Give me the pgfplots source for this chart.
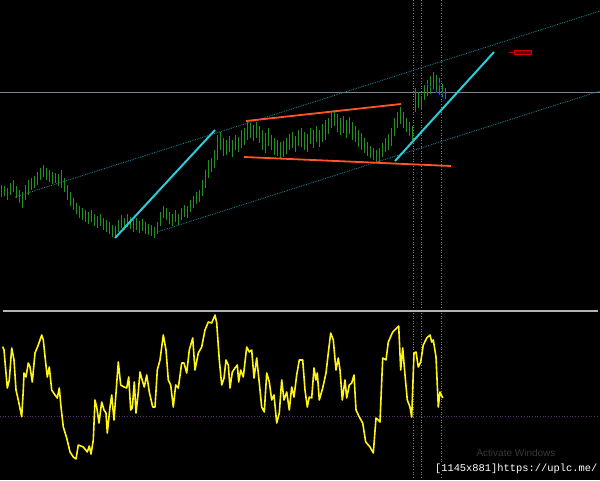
\documentclass[border=0pt]{standalone}
\usepackage{pgfplots}
\usepackage{pgfplotstable}
\pgfplotsset{compat=1.18}
\usepackage{fontspec}
\setmainfont{Liberation Sans}
\newfontfamily\monofont{Liberation Mono}

\definecolor{bargreen}{RGB}{30,145,30}
\definecolor{trendcyan}{RGB}{40,205,220}
\definecolor{chancyan}{RGB}{30,140,160}
\definecolor{trendred}{RGB}{255,85,40}
\definecolor{levelgray}{RGB}{125,130,140}
\definecolor{sepgray}{RGB}{180,180,180}
\definecolor{oscyellow}{RGB}{255,245,20}
\definecolor{zeropurple}{RGB}{90,50,110}

% price bars in screen units: x, high, low (y grows downward)
\pgfplotstableread{
x hi lo
1 185 197
4 186 196
7 188 200
10 183 195
13 180 192
16 186 198
19 190 203
22 192 208
25 185 200
28 180 195
31 178 190
34 176 188
37 172 185
40 168 180
43 165 177
46 168 180
49 170 182
52 172 184
55 173 183
58 174 186
61 170 188
64 178 192
67 185 200
70 192 206
73 198 210
76 203 214
79 206 218
82 208 220
85 210 222
88 212 224
91 210 222
94 214 226
97 216 228
100 214 226
103 218 230
106 220 232
109 222 234
112 225 237
115 226 238
118 220 232
121 215 228
124 218 230
127 214 227
130 217 229
133 220 232
136 218 230
139 221 233
142 219 231
145 222 234
148 224 235
151 225 236
154 227 238
157 222 234
160 212 226
163 206 218
166 208 220
169 212 224
172 214 226
175 210 222
178 214 225
181 208 220
184 205 217
187 206 218
190 200 212
193 196 208
196 192 204
199 190 202
202 180 196
205 170 188
208 160 178
211 158 172
214 150 168
217 135 160
220 132 150
223 138 156
226 140 155
229 136 152
232 140 157
235 135 150
238 137 152
241 130 148
244 128 145
247 121 140
250 123 138
253 125 141
256 122 138
259 126 143
262 130 150
265 133 153
268 128 146
271 135 150
274 138 155
277 140 156
280 142 158
283 141 157
286 138 154
289 134 150
292 132 148
295 136 152
298 130 146
301 128 147
304 132 150
307 134 152
310 128 144
313 130 148
316 126 142
319 130 147
322 124 142
325 120 140
328 118 134
331 112 128
334 110 126
337 114 132
340 118 135
343 116 133
346 120 138
349 117 134
352 122 140
355 126 142
358 130 147
361 133 150
364 138 153
367 142 156
370 146 158
373 148 160
376 150 162
379 148 162
382 143 157
385 138 152
388 134 150
391 128 146
394 118 136
397 112 128
400 107 124
403 112 128
406 118 132
409 122 136
412 126 140
415 88 112
418 92 108
421 96 110
424 85 100
427 80 96
430 76 94
433 72 90
436 75 92
439 78 95
442 84 98
445 88 99
}\pricedata

\pgfplotsset{
  panel/.style={
    scale only axis, width=600pt, xmin=0, xmax=600,
    y dir=reverse, ticks=none,
    axis line style={draw=none},
    axis background/.style={fill=black},
  },
}

\begin{document}
\begin{tikzpicture}
% price panel
\begin{axis}[panel, at={(0,172pt)}, height=308pt, ymin=0, ymax=308]
\addplot[levelgray, line width=0.8pt] coordinates {(0,92) (600,92)};
\addplot[chancyan, densely dotted, line width=0.8pt] coordinates {(15,197) (600,11)};
\addplot[chancyan, densely dotted, line width=0.8pt] coordinates {(157,232) (600,91)};
\addplot[gray, dotted, line width=0.6pt] coordinates {(413,0) (413,308)};
\addplot[gray, dotted, line width=0.6pt] coordinates {(421,0) (421,308)};
\addplot[gray, dotted, line width=0.6pt] coordinates {(441,0) (441,308)};
\addplot[draw=none, no markers,
  error bars/.cd, y dir=plus, y explicit, error mark=none,
  error bar style={draw=bargreen, line width=1pt}]
  table[x=x, y=hi, y error plus expr=\thisrow{lo}-\thisrow{hi}] {\pricedata};
\addplot[blue!60!black, line width=0.5pt] coordinates {(427,84) (445,100) (437,77)};
\addplot[trendcyan, line width=2pt] coordinates {(115,238) (215,130)};
\addplot[trendcyan, line width=2pt] coordinates {(395,161) (494,52)};
\addplot[trendred, line width=1.8pt] coordinates {(246,121) (401,104)};
\addplot[trendred, line width=1.8pt] coordinates {(244,157) (451,166)};
\draw[red!80!black, line width=0.5pt] (axis cs:509,52.5) -- (axis cs:514,52.5);
\node[draw=red!85!black, fill=red!20!black, inner sep=0.6pt, text=red!75!black,
  font=\fontsize{4.5}{5}\selectfont, anchor=west] at (axis cs:514,52.5) {1929.15};
\end{axis}
% oscillator panel
\begin{axis}[panel, at={(0,0)}, height=172pt, ymin=308, ymax=480]
\addplot[sepgray, line width=2.2pt] coordinates {(3,311) (598,311)};
\addplot[zeropurple, dotted, line width=0.7pt] coordinates {(0,416) (597,416)};
\addplot[gray, dotted, line width=0.6pt] coordinates {(413,313) (413,478)};
\addplot[gray, dotted, line width=0.6pt] coordinates {(421,313) (421,478)};
\addplot[gray, dotted, line width=0.6pt] coordinates {(441,313) (441,478)};
\addplot[oscyellow, line width=1.6pt, line join=round] coordinates {
(2.7,346.7) (4,350) (7.3,388) (9.3,380) (11.7,348) (14,360) (16,390) (18.3,400)
(21.7,416.7) (23.3,390) (24,373) (26,377) (28.3,363) (30,367) (32.3,382) (35,353)
(38.3,345) (41.7,335) (43.3,340) (45.7,363) (47.3,377) (49.3,367) (51.7,390) (55,395)
(57.3,398) (59.3,388) (61,407) (63.3,427) (66.7,438) (70,452) (73.3,457) (76,459)
(78.3,445) (83.3,447) (87.3,452) (89.3,446) (91,454) (93.3,440) (95,400) (96.7,407)
(99,423) (101.7,402) (104,410) (106,413) (107.3,433) (110,407) (111.7,395) (114,420)
(116,393) (118.3,362) (120.7,385) (124,387) (126.7,388) (128.7,377) (130.7,410) (132.3,408)
(134.3,382) (136,413) (138.3,392) (140,372) (142.7,382) (144.3,387) (146.7,375) (149.3,392)
(152.7,407) (155,407) (157.3,370) (160,360) (163.3,335) (166,350) (168.3,380) (170.7,385)
(173.3,407) (175.7,385) (178.3,388) (181.7,363) (184,363) (186.7,373) (189.3,350) (192.7,338)
(195,370) (198.3,353) (201.7,347) (205,330) (208.3,322) (211.7,323) (215,315) (216.7,323)
(219.3,360) (221.7,385) (224,378) (226,360) (228.3,365) (230,388) (232.3,372) (235,368)
(237.3,365) (238.7,382) (240.7,370) (243.3,377) (246.7,347) (249.3,352) (251.7,350) (254,378)
(256.7,358) (259.3,383) (261.7,407) (264.3,412) (266.7,373) (269.3,382) (271.7,400) (274,395)
(276.7,423) (279.3,413) (281.7,380) (284,400) (286.7,392) (289.3,410) (291.7,387) (294,397)
(296.7,375) (299.3,360) (302.7,360) (305,390) (307.3,407) (309.3,397) (311.7,398) (314,368)
(316,380) (317.3,373) (319.3,400) (322.7,388) (326,373) (328.3,353) (330.7,333) (333.3,340)
(336,370) (338.3,358) (340,370) (342.3,400) (345,380) (346.7,398) (349.3,385) (351.7,383)
(354,375) (356,410) (359.3,417) (362.7,423) (365.7,442) (370,447) (373.3,453) (376,418)
(378.3,420) (380,422) (382.7,358) (386,360) (388.3,342) (392.7,332) (396.7,328) (398.7,326)
(400.7,370) (402.7,348) (405,375) (407.3,400) (410,407) (411.7,417) (414,353) (416,352)
(418.3,367) (420.7,362) (423.3,345) (426.7,338) (430,335) (431.7,342) (433.3,340) (436,357)
(438.3,407) (440,392) (442.7,398)
};
\node[text=black!78!white, font=\fontsize{10}{12}\selectfont] at (axis cs:516,453) {Activate Windows};
\node[fill=black, text=white, inner sep=0.5pt, anchor=east,
  font=\monofont\fontsize{10.4}{12}\selectfont] at (axis cs:598,469) {[1145x881]https://uplc.me/};
\end{axis}
\end{tikzpicture}
\end{document}
